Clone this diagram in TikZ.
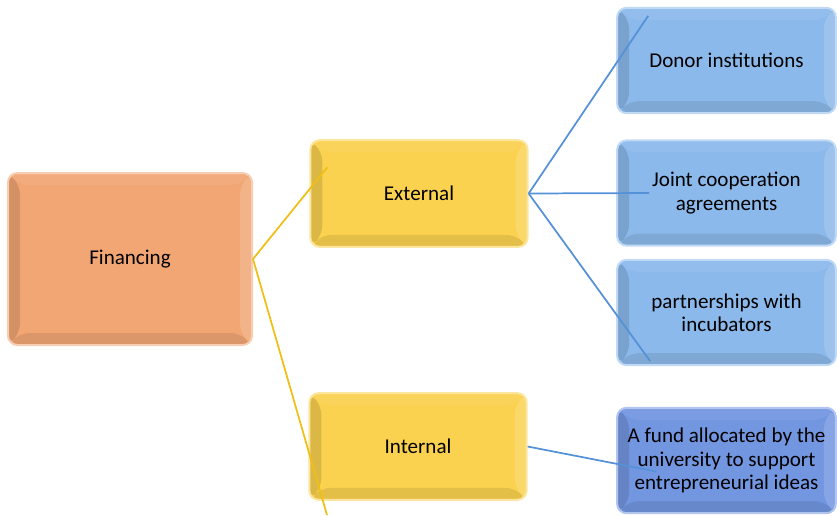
\documentclass[tikz,border=0pt]{standalone}
\usepackage{fontspec}
\setmainfont{Carlito}
\usetikzlibrary{positioning,calc}
\definecolor{fnOrange}{RGB}{241,166,116}
\definecolor{fnYellow}{RGB}{250,210,80}
\definecolor{fnBlue}{RGB}{140,185,235}
\definecolor{fnDeep}{RGB}{115,150,225}
\definecolor{fnGold}{RGB}{240,190,20}
\definecolor{fnLine}{RGB}{85,145,215}
\tikzset{
    base/.style={font=\fontsize{15.8}{17.5}\selectfont, align=center, text=black},
    bevel/.style={path picture={
        \path (path picture bounding box.south west) coordinate (bsw)
              (path picture bounding box.north west) coordinate (bnw)
              (path picture bounding box.north east) coordinate (bne)
              (path picture bounding box.south east) coordinate (bse);
        \fill[black,opacity=.12] (bsw) -- (bnw) -- ($(bnw)+(9pt,-9pt)$) -- ($(bsw)+(9pt,9pt)$) -- cycle;
        \fill[black,opacity=.09] (bsw) -- (bse) -- ($(bse)+(-9pt,9pt)$) -- ($(bsw)+(9pt,9pt)$) -- cycle;
        \fill[white,opacity=.15] (bse) -- (bne) -- ($(bne)+(-9pt,-9pt)$) -- ($(bse)+(-9pt,9pt)$) -- cycle;
        \fill[white,opacity=.06] (bnw) -- (bne) -- ($(bne)+(-9pt,-9pt)$) -- ($(bnw)+(9pt,-9pt)$) -- cycle;
    }},
    boxx/.style={base, bevel, rectangle, rounded corners=7pt, line width=1.5pt},
    root/.style={boxx, fill=fnOrange, draw=fnOrange!55!white,
                 minimum width=183pt, minimum height=129pt},
    branch/.style={boxx, fill=fnYellow, draw=fnYellow!55!white,
                   minimum width=163pt, minimum height=80pt},
    leaf/.style={boxx, fill=fnBlue, draw=fnBlue!55!white,
                 minimum width=164pt, minimum height=79pt},
    deepleaf/.style={leaf, fill=fnDeep, draw=fnDeep!55!white},
    goldlink/.style={draw=fnGold, line width=1.3pt},
    bluelink/.style={draw=fnLine, line width=1.3pt}
}
\begin{document}
\begin{tikzpicture}[x=0.75pt,y=-0.75pt]
  \useasboundingbox (0,0) rectangle (837,515);
  % root and branches
  \node[root] (fin) at (130,259) {Financing};
  \node[branch] (ext) at (419,193.5) {External};
  \node[branch] (int) at (418,446.5) {Internal};

  % leaves
  \node[leaf] (donor) at (726.5,60.5) {Donor institutions};
  \node[leaf] (joint) at (726.5,193) {Joint cooperation\\agreements};
  \node[leaf] (partner) at (726.5,312.5) {partnerships with\\incubators};
  \node[deepleaf] (fund) at (726.5,460.5) {A fund allocated by the\\university to support\\entrepreneurial ideas};

  % link ends
  \coordinate (extin) at ($(ext.north west)+(18,28)$);
  \coordinate (intin) at (327,515);
  \coordinate (donorin) at ($(donor.north west)+(32,9)$);
  \coordinate (jointin) at ($(joint.west)+(33,0)$);
  \coordinate (partnerin) at ($(partner.south west)+(34,-5)$);
  \coordinate (fundin) at ($(fund.west)+(40,11)$);

  \draw[goldlink] (fin.east) -- (extin);
  \draw[goldlink] (fin.east) -- (intin);
  \draw[bluelink] (ext.east) -- (donorin);
  \draw[bluelink] (ext.east) -- (jointin);
  \draw[bluelink] (ext.east) -- (partnerin);
  \draw[bluelink] (int.east) -- (fundin);
\end{tikzpicture}
\end{document}
